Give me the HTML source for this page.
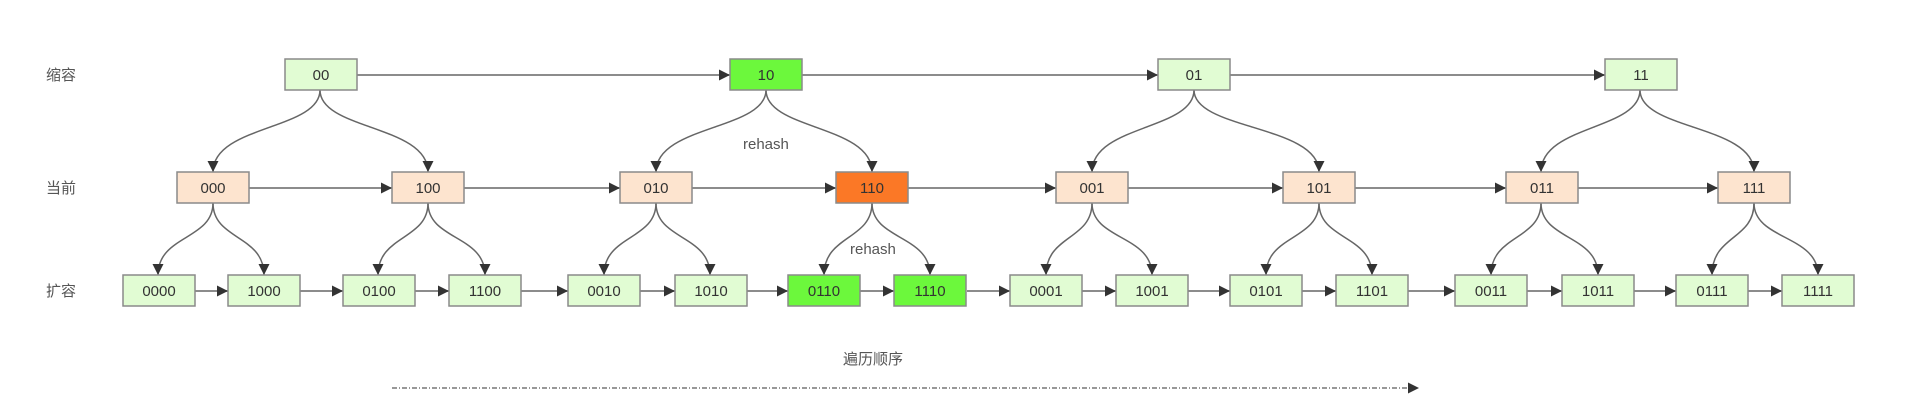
<!DOCTYPE html>
<html><head><meta charset="utf-8"><style>
html,body{margin:0;padding:0;background:#fff;width:1918px;height:420px;overflow:hidden}
svg text{font-family:"Liberation Sans","Noto Sans CJK SC",sans-serif;fill:#333}
</style></head><body>
<svg width="1918" height="420" xmlns="http://www.w3.org/2000/svg">
<defs>
<marker id="a" viewBox="0 0 10 10" refX="10" refY="5" markerWidth="14" markerHeight="11" markerUnits="userSpaceOnUse" orient="auto"><path d="M0,0 L10,5 L0,10 z" fill="#333"/></marker>
</defs>
<g font-size="15" fill="#555">
<text x="46" y="80" style="fill:#555">缩容</text>
<text x="46" y="193" style="fill:#555">当前</text>
<text x="46" y="296" style="fill:#555">扩容</text>
<text x="843" y="364" style="fill:#555">遍历顺序</text>
<text x="743" y="149" style="fill:#555">rehash</text>
<text x="850" y="254" style="fill:#555">rehash</text>
</g>
<g stroke="#8c8c8c" stroke-width="2" fill="none" marker-end="url(#a)">
<path d="M357,75 H730"/><path d="M802,75 H1158"/><path d="M1230,75 H1605"/>
<path d="M249,188 H392"/><path d="M463,188 H620"/><path d="M692,188 H836"/><path d="M908,188 H1056"/><path d="M1128,188 H1283"/><path d="M1355,188 H1506"/><path d="M1577,188 H1718"/>
<path d="M195,291 H228"/><path d="M300,291 H343"/><path d="M414,291 H449"/><path d="M521,291 H568"/><path d="M640,291 H675"/><path d="M746,291 H788"/><path d="M860,291 H894"/><path d="M967,291 H1010"/><path d="M1082,291 H1116"/><path d="M1188,291 H1230"/><path d="M1301,291 H1336"/><path d="M1408,291 H1455"/><path d="M1527,291 H1562"/><path d="M1634,291 H1676"/><path d="M1747,291 H1782"/>
</g>
<path d="M392,388 H1419" stroke="#777" stroke-width="1.5" stroke-dasharray="5 2 1 2" fill="none" marker-end="url(#a)"/>
<g stroke="#666" stroke-width="1.5" fill="none" marker-end="url(#a)">
<path d="M320,90 C320,130 213,125 213,172"/><path d="M320,90 C320,130 428,125 428,172"/>
<path d="M766,90 C766,130 656,125 656,172"/><path d="M766,90 C766,130 872,125 872,172"/>
<path d="M1194,90 C1194,130 1092,125 1092,172"/><path d="M1194,90 C1194,130 1319,125 1319,172"/>
<path d="M1640,90 C1640,130 1541,125 1541,172"/><path d="M1640,90 C1640,130 1754,125 1754,172"/>
<path d="M213,203 C213,240 158,235 158,275"/><path d="M213,203 C213,240 264,235 264,275"/>
<path d="M428,203 C428,240 378,235 378,275"/><path d="M428,203 C428,240 485,235 485,275"/>
<path d="M656,203 C656,240 604,235 604,275"/><path d="M656,203 C656,240 710,235 710,275"/>
<path d="M872,203 C872,240 824,235 824,275"/><path d="M872,203 C872,240 930,235 930,275"/>
<path d="M1092,203 C1092,240 1046,235 1046,275"/><path d="M1092,203 C1092,240 1152,235 1152,275"/>
<path d="M1319,203 C1319,240 1266,235 1266,275"/><path d="M1319,203 C1319,240 1372,235 1372,275"/>
<path d="M1541,203 C1541,240 1491,235 1491,275"/><path d="M1541,203 C1541,240 1598,235 1598,275"/>
<path d="M1754,203 C1754,240 1712,235 1712,275"/><path d="M1754,203 C1754,240 1818,235 1818,275"/>
</g>
<g stroke="#8a8a8a" stroke-width="1.5">
<rect x="285" y="59" width="72" height="31" fill="#e1fcd3"/>
<rect x="730" y="59" width="72" height="31" fill="#6cf83c"/>
<rect x="1158" y="59" width="72" height="31" fill="#e1fcd3"/>
<rect x="1605" y="59" width="72" height="31" fill="#e1fcd3"/>
<rect x="177" y="172" width="72" height="31" fill="#fde4cf"/>
<rect x="392" y="172" width="72" height="31" fill="#fde4cf"/>
<rect x="620" y="172" width="72" height="31" fill="#fde4cf"/>
<rect x="836" y="172" width="72" height="31" fill="#fb7826"/>
<rect x="1056" y="172" width="72" height="31" fill="#fde4cf"/>
<rect x="1283" y="172" width="72" height="31" fill="#fde4cf"/>
<rect x="1506" y="172" width="72" height="31" fill="#fde4cf"/>
<rect x="1718" y="172" width="72" height="31" fill="#fde4cf"/>
<rect x="123" y="275" width="72" height="31" fill="#e1fcd3"/>
<rect x="228" y="275" width="72" height="31" fill="#e1fcd3"/>
<rect x="343" y="275" width="72" height="31" fill="#e1fcd3"/>
<rect x="449" y="275" width="72" height="31" fill="#e1fcd3"/>
<rect x="568" y="275" width="72" height="31" fill="#e1fcd3"/>
<rect x="675" y="275" width="72" height="31" fill="#e1fcd3"/>
<rect x="788" y="275" width="72" height="31" fill="#6cf83c"/>
<rect x="894" y="275" width="72" height="31" fill="#6cf83c"/>
<rect x="1010" y="275" width="72" height="31" fill="#e1fcd3"/>
<rect x="1116" y="275" width="72" height="31" fill="#e1fcd3"/>
<rect x="1230" y="275" width="72" height="31" fill="#e1fcd3"/>
<rect x="1336" y="275" width="72" height="31" fill="#e1fcd3"/>
<rect x="1455" y="275" width="72" height="31" fill="#e1fcd3"/>
<rect x="1562" y="275" width="72" height="31" fill="#e1fcd3"/>
<rect x="1676" y="275" width="72" height="31" fill="#e1fcd3"/>
<rect x="1782" y="275" width="72" height="31" fill="#e1fcd3"/>
</g>
<g font-size="15" text-anchor="middle">
<text x="321" y="80">00</text><text x="766" y="80">10</text><text x="1194" y="80">01</text><text x="1641" y="80">11</text>
<text x="213" y="193">000</text><text x="428" y="193">100</text><text x="656" y="193">010</text><text x="872" y="193">110</text><text x="1092" y="193">001</text><text x="1319" y="193">101</text><text x="1542" y="193">011</text><text x="1754" y="193">111</text>
<text x="159" y="296">0000</text><text x="264" y="296">1000</text><text x="379" y="296">0100</text><text x="485" y="296">1100</text><text x="604" y="296">0010</text><text x="711" y="296">1010</text><text x="824" y="296">0110</text><text x="930" y="296">1110</text><text x="1046" y="296">0001</text><text x="1152" y="296">1001</text><text x="1266" y="296">0101</text><text x="1372" y="296">1101</text><text x="1491" y="296">0011</text><text x="1598" y="296">1011</text><text x="1712" y="296">0111</text><text x="1818" y="296">1111</text>
</g>
</svg>
</body></html>
